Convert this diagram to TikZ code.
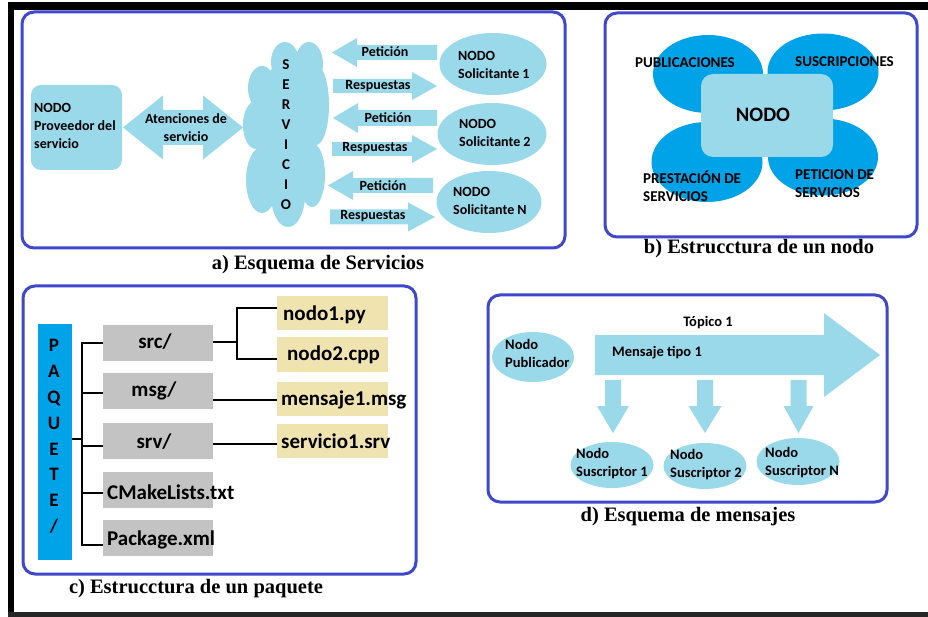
\documentclass[tikz,border=0pt]{standalone}
\usepackage{fontspec}
\setmainfont{Liberation Serif}
\setsansfont{Carlito}
\usetikzlibrary{shapes.geometric}

\definecolor{lightb}{HTML}{99D9EA}
\definecolor{deepb}{HTML}{00A2E8}
\definecolor{frameb}{HTML}{3F48CC}
\definecolor{greyb}{HTML}{C3C3C3}
\definecolor{tanb}{HTML}{EFE4B0}

% horizontal block arrow: tip x, head base x, tail x, centre y, head half-height, shaft half-height
\newcommand\harrow[6]{%
  \fill[lightb] (#1,#4) -- (#2,{#4-#5}) -- (#2,{#4-#6}) -- (#3,{#4-#6})
    -- (#3,{#4+#6}) -- (#2,{#4+#6}) -- (#2,{#4+#5}) -- cycle;}
% vertical block arrow: tip y, head base y, tail y, centre x, head half-width, shaft half-width
\newcommand\varrow[6]{%
  \fill[lightb] (#4,#1) -- ({#4-#5},#2) -- ({#4-#6},#2) -- ({#4-#6},#3)
    -- ({#4+#6},#3) -- ({#4+#6},#2) -- ({#4+#5},#2) -- cycle;}

\begin{document}
\begin{tikzpicture}[x=1pt,y=-1pt,
  panel/.style={draw=frameb,line width=3pt,rounded corners=12pt},
  txt/.style={font=\sffamily\bfseries\fontsize{#1}{18}\selectfont,inner sep=0pt,text=black,align=left},
  txt/.default=14,
  caption/.style={font=\rmfamily\bfseries\fontsize{20.5}{24}\selectfont,inner sep=0pt},
  lbox/.style={fill=lightb,rounded corners=10pt,inner sep=0pt},
  blob/.style={ellipse,fill=#1,inner sep=0pt},
  fbox/.style={fill=#1,inner sep=0pt},
  tree/.style={draw=black,line width=1.8pt}]
\useasboundingbox (0,0) rectangle (928,617);
\fill[white] (0,0) rectangle (928,617);

% outer frame
\fill[black] (8,2) rectangle (928,10);
\fill[black] (8,2) rectangle (14,617);
\fill[black!85] (8,612) rectangle (928,617);

%%%%%%%%%%%%%%%% a) Esquema de Servicios
\draw[panel] (22,12) rectangle (565,248);
\node[lbox,minimum width=91pt,minimum height=85pt] (prov) at (76.5,127.5) {};
\node[txt,anchor=west] (provt) at (34,126) {NODO\\Proveedor del\\servicio};

% double arrow
\fill[lightb] (123,127.5) -- (163,95.5) -- (163,110) -- (203,110) -- (203,95.5)
  -- (243,127.5) -- (203,159.5) -- (203,145) -- (163,145) -- (163,159.5) -- cycle;
\node[txt,align=center] (aten) at (186,127.5) {Atenciones de\\servicio};

% cloud
\foreach \cx/\cy/\rx/\ry in {285/62/14/20, 309/64/14/22, 262/88/14/22, 256/125/13/24,
  316/105/13/40, 262/180/16/33, 288/195/17/32, 312/175/13/32, 286/135/30/75}
  \fill[lightb] (\cx,\cy) ellipse [x radius=\rx, y radius=\ry];
\node[txt,align=center,font=\sffamily\bfseries\fontsize{15}{20}\selectfont] (serv) at (286,135)
  {S\\E\\R\\V\\I\\C\\I\\O};

% request / response arrows
\harrow{332}{357}{437}{52.5}{14.5}{7.5}
\harrow{437}{412}{333}{86}{14}{7}
\harrow{333}{358}{437}{118}{15}{8}
\harrow{437}{412}{332}{149}{14}{7}
\harrow{328}{353}{433}{185.5}{14.5}{7.5}
\harrow{435}{408}{330}{217}{14.5}{7.5}
\node[txt] (p1) at (385,52) {Petición};
\node[txt=14] (r1) at (378,86) {Respuestas};
\node[txt] (p2) at (388,118) {Petición};
\node[txt=14] (r2) at (375,148) {Respuestas};
\node[txt] (p3) at (383,186) {Petición};
\node[txt=14] (r3) at (373,216) {Respuestas};

% requesting nodes
\node[blob=lightb,minimum width=107pt,minimum height=62pt] (sol1) at (493,64) {};
\node[blob=lightb,minimum width=109pt,minimum height=62pt] (sol2) at (492,134) {};
\node[blob=lightb,minimum width=105pt,minimum height=62pt] (sol3) at (489,202) {};
\node[txt,anchor=west] (sol1t) at (458,65) {NODO\\Solicitante 1};
\node[txt,anchor=west] (sol2t) at (459,133) {NODO\\Solicitante 2};
\node[txt,anchor=west] (sol3t) at (453,201) {NODO\\Solicitante N};

\node[caption] (capa) at (318,265) {a) Esquema de Servicios};

%%%%%%%%%%%%%%%% b) Estrucctura de un nodo
\draw[panel] (605,13) rectangle (917,237);
\node[blob=deepb,minimum width=110pt,minimum height=78pt] (pub) at (708,74) {};
\node[blob=deepb,minimum width=111pt,minimum height=77pt] (sus) at (823,72) {};
\node[blob=deepb,minimum width=111pt,minimum height=80pt] (pre) at (707,162) {};
\node[blob=deepb,minimum width=110pt,minimum height=77pt] (pet) at (823,157) {};
\node[lbox,minimum width=132pt,minimum height=83pt,rounded corners=12pt] (nodo) at (767,115.5) {};
\node[txt=20.5] (nodot) at (763,115) {NODO};
\node[txt=15,anchor=west] (pubt) at (635,63) {PUBLICACIONES};
\node[txt=15,anchor=west] (sust) at (795,62) {SUSCRIPCIONES};
\node[txt=15,anchor=west] (pret) at (643,186) {PRESTACIÓN DE\\SERVICIOS};
\node[txt=15,anchor=west] (pett) at (795,184) {PETICION DE\\SERVICIOS};

\node[caption] (capb) at (759,249) {b) Estrucctura de un nodo};

%%%%%%%%%%%%%%%% c) Estrucctura de un paquete
\draw[panel] (23,286) rectangle (416,574);
\node[fbox=deepb,minimum width=34pt,minimum height=236pt] (paq) at (55,442) {};
\node[align=center,inner sep=0pt,font=\sffamily\bfseries\fontsize{19}{25.8}\selectfont] (paqt)
  at (54,436.5) {P\\A\\Q\\U\\E\\T\\E\\/};

\node[fbox=greyb,minimum width=110pt,minimum height=36pt] (src) at (158,343) {};
\node[fbox=greyb,minimum width=110pt,minimum height=36pt] (msg) at (158,391) {};
\node[fbox=greyb,minimum width=110pt,minimum height=36pt] (srv) at (158,441) {};
\node[fbox=greyb,minimum width=110pt,minimum height=36pt] (cmk) at (158,490) {};
\node[fbox=greyb,minimum width=110pt,minimum height=36pt] (pkg) at (158,538) {};
\node[txt=21] (srct) at (155,342) {src/};
\node[txt=21] (msgt) at (154,391) {msg/};
\node[txt=21] (srvt) at (154,442) {srv/};
\node[txt=21,anchor=west] (cmkt) at (107,492) {CMakeLists.txt};
\node[txt=21,anchor=west] (pkgt) at (107,540) {Package.xml};

\node[fbox=tanb,minimum width=111pt,minimum height=34pt] (n1) at (332.5,313) {};
\node[fbox=tanb,minimum width=111pt,minimum height=35pt] (n2) at (332.5,354.5) {};
\node[fbox=tanb,minimum width=111pt,minimum height=34pt] (m1) at (332.5,399) {};
\node[fbox=tanb,minimum width=111pt,minimum height=34pt] (s1) at (332.5,441) {};
\node[txt=21,anchor=west] (n1t) at (283,315) {nodo1.py};
\node[txt=21,anchor=west] (n2t) at (287,355) {nodo2.cpp};
\node[txt=21,anchor=west] (m1t) at (281,400) {mensaje1.msg};
\node[txt=21,anchor=west] (s1t) at (281,441) {servicio1.srv};

% package tree
\coordinate (trunk) at (82,439);
\draw[tree] (paq.east |- trunk) -- (trunk);
\draw[tree] (src.west) -| (trunk |- pkg.west) |- ([yshift=-7pt]pkg.west);
\draw[tree] (msg.west) ++(0,2) -- ([yshift=-2pt]msg.west -| trunk);
\draw[tree] ([yshift=-5pt]srv.west) -- ([yshift=-5pt]srv.west -| trunk);
\draw[tree] ([yshift=-3pt]cmk.west) -- ([yshift=-3pt]cmk.west -| trunk);
\coordinate (fork) at (237,342);
\draw[tree] (src.east |- fork) -- (fork);
\draw[tree] (n1.west |- 0,308) -| (fork) |- (n2.west |- 0,359);
\draw[tree] ([yshift=-9pt]msg.east) -- ([yshift=-9pt]msg.east -| m1.west);
\draw[tree] ([yshift=-3pt]srv.east) -- ([yshift=-3pt]srv.east -| s1.west);

\node[caption] (capc) at (196,589) {c) Estrucctura de un paquete};

%%%%%%%%%%%%%%%% d) Esquema de mensajes
\draw[panel] (488,295) rectangle (887,502);
\node[blob=lightb,minimum width=82pt,minimum height=50pt] (pubn) at (533,357) {};
\node[txt=14.5,anchor=west] (pubnt) at (505,353.5) {Nodo\\Publicador};

\harrow{880}{824}{595}{355}{42}{20}
\node[txt=14.5] (topt) at (708,323) {Tópico 1};
\node[txt=14.5,anchor=west] (mens) at (612,353) {Mensaje tipo 1};

\varrow{433}{406}{380}{613}{16}{8}
\varrow{433}{406}{380}{705}{16.5}{8}
\varrow{433}{406}{380}{798.5}{15}{8}

\node[blob=lightb,minimum width=83pt,minimum height=46pt] (sus1) at (612,465) {};
\node[blob=lightb,minimum width=83pt,minimum height=46pt] (sus2) at (705,466) {};
\node[blob=lightb,minimum width=83pt,minimum height=47pt] (sus3) at (798,461.5) {};
\node[txt=14.5,anchor=west] (sus1t) at (576,463.5) {Nodo\\Suscriptor 1};
\node[txt=14.5,anchor=west] (sus2t) at (670,464.5) {Nodo\\Suscriptor 2};
\node[txt=14.5,anchor=west] (sus3t) at (765,462.5) {Nodo\\Suscriptor N};

\node[caption] (capd) at (688,517) {d) Esquema de mensajes};
\end{tikzpicture}
\end{document}
